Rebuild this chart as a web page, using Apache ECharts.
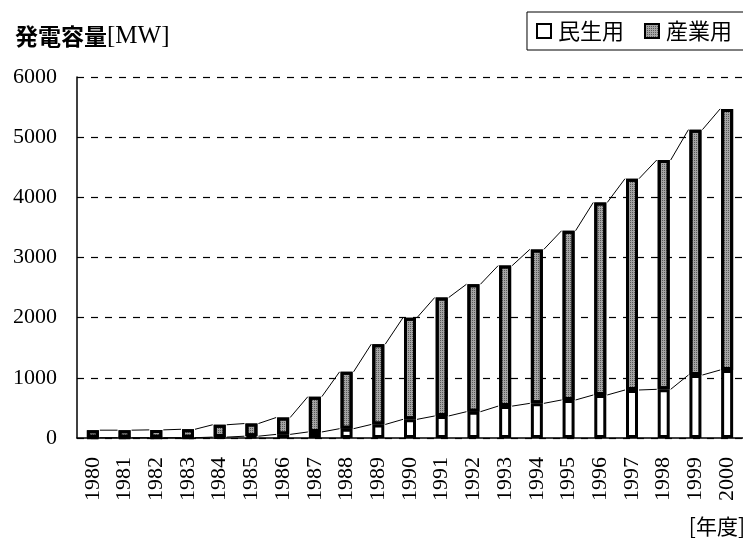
<!DOCTYPE html>
<html>
<head>
<meta charset="utf-8">
<script src="https://cdn.jsdelivr.net/npm/echarts@6/dist/echarts.min.js"></script>
<style>
  html, body { margin: 0; padding: 0; background: #fff; }
  #main { width: 743px; height: 546px; }
</style>
</head>
<body>
<div id="main"></div>
<script>
// 年度
var years = ['1980','1981','1982','1983','1984','1985','1986','1987','1988','1989','1990',
             '1991','1992','1993','1994','1995','1996','1997','1998','1999','2000'];
// 民生用 [MW]
var minsei = [5, 5, 5, 5, 15, 30, 60, 100, 155, 225, 310, 366, 437, 530, 576, 632, 715, 798, 809, 1047, 1130];
// 産業用 [MW]
var sangyo = [125, 125, 130, 140, 205, 210, 280, 587, 945, 1335, 1690, 1969, 2118, 2335, 2559, 2813, 3200, 3512, 3811, 4078, 4340];
var yTicks = [0, 1000, 2000, 3000, 4000, 5000, 6000];

var BAR_W = 12;

// 積み上げ合計
var totals = [];
for (var i = 0; i < years.length; i++) {
    totals.push(minsei[i] + sangyo[i]);
}

// 区分線用データ [i, 値i, 値i+1]
function pairData(arr) {
    var out = [];
    for (var i = 0; i < arr.length - 1; i++) {
        out.push([i, arr[i], arr[i + 1]]);
    }
    return out;
}

function seriesLine(params, api) {
    var i = api.value(0);
    var p1 = api.coord([i, api.value(1)]);
    var p2 = api.coord([i + 1, api.value(2)]);
    var hw = BAR_W / 2 + 1;
    return {
        type: 'line',
        shape: { x1: p1[0] + hw, y1: p1[1], x2: p2[0] - hw, y2: p2[1] },
        style: { stroke: '#000', lineWidth: 1 }
    };
}

var serif = '"Liberation Serif", "DejaVu Serif", serif';
var jp = '"Noto Sans CJK JP", sans-serif';

var chart = echarts.init(document.getElementById('main'));
chart.setOption({
    animation: false,
    backgroundColor: '#fff',
    title: {
        text: '{a|発電容量}{b|[MW]}',
        left: 10,
        top: 19,
        textStyle: {
            rich: {
                a: { fontFamily: jp, fontWeight: 'bold', fontSize: 23, color: '#000' },
                b: { fontFamily: serif, fontWeight: 'normal', fontSize: 25, color: '#000' }
            }
        }
    },
    legend: {
        data: ['民生用', '産業用'],
        icon: 'rect',
        right: -1,
        top: 12,
        padding: [8, 12, 8, 9],
        itemGap: 20,
        itemWidth: 14,
        itemHeight: 14,
        borderColor: '#000',
        borderWidth: 1,
        itemStyle: { borderWidth: 2 },
        textStyle: { fontFamily: jp, fontSize: 22, color: '#000', padding: [0, 0, 0, 2] }
    },
    grid: { left: 77, right: 0, top: 77, bottom: 108 },
    xAxis: {
        type: 'category',
        data: years,
        axisLine: { lineStyle: { color: '#000', width: 1.5 } },
        axisTick: { inside: true, length: 6, lineStyle: { color: '#000' } },
        axisLabel: {
            rotate: 90,
            margin: 19,
            fontFamily: serif,
            fontSize: 22,
            color: '#000'
        }
    },
    yAxis: {
        type: 'value',
        min: 0,
        max: 6000,
        interval: 1000,
        axisLine: { show: true, lineStyle: { color: '#000', width: 1.5 } },
        axisTick: { show: true, inside: true, length: 4, lineStyle: { color: '#000' } },
        axisLabel: {
            margin: 20,
            fontFamily: serif,
            fontSize: 22,
            color: '#000',
            formatter: function (v) { return yTicks.indexOf(v) >= 0 ? String(v) : ''; }
        },
        splitLine: { lineStyle: { color: '#000', type: [7, 7], width: 1.2 } }
    },
    graphic: [{
        type: 'text',
        right: -2,
        top: 516,
        style: { text: '[年度]', font: '21px ' + jp, fill: '#000' }
    }],
    series: [
        {
            name: '民生用',
            type: 'bar',
            stack: 'total',
            barWidth: BAR_W,
            data: minsei,
            itemStyle: { color: '#fff', borderColor: '#000', borderWidth: 3 }
        },
        {
            name: '産業用',
            type: 'bar',
            stack: 'total',
            barWidth: BAR_W,
            data: sangyo,
            itemStyle: {
                color: '#a4a4a4',
                borderColor: '#000',
                borderWidth: 3,
                decal: {
                    symbol: 'rect',
                    symbolSize: 1,
                    dashArrayX: [1, 1],
                    dashArrayY: [1, 1],
                    color: 'rgba(40,40,40,0.6)'
                }
            }
        },
        {
            type: 'custom',
            silent: true,
            renderItem: seriesLine,
            data: pairData(minsei),
            encode: { x: 0, y: [1, 2] },
            z: 5
        },
        {
            type: 'custom',
            silent: true,
            renderItem: seriesLine,
            data: pairData(totals),
            encode: { x: 0, y: [1, 2] },
            z: 5
        }
    ]
});
</script>
</body>
</html>
